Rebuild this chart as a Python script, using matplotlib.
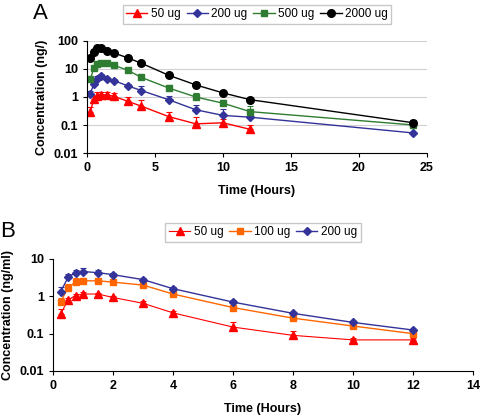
import matplotlib.pyplot as plt
import numpy as np

plt.rcParams['font.family'] = ['Liberation Sans', 'DejaVu Sans']

# Panel A
time_a = [0.25, 0.5, 0.75, 1, 1.5, 2, 3, 4, 6, 8, 10, 12, 24]
a_50 = [0.3, 0.85, 1.1, 1.2, 1.2, 1.05, 0.7, 0.47, 0.2, 0.11, 0.12, 0.07]
a_50_err = [0.15, 0.25, 0.35, 0.35, 0.3, 0.35, 0.3, 0.28, 0.1, 0.09, 0.05, 0.03]
a_200 = [1.3, 3.0, 4.5, 5.5, 4.5, 3.8, 2.5, 1.7, 0.8, 0.35, 0.22, 0.19, 0.052]
a_200_err = [0.3, 0.8, 1.0, 1.2, 0.6, 0.6, 0.5, 0.7, 0.3, 0.18, 0.14, 0.07, 0.005]
a_500 = [4.3, 11, 15, 16, 16, 13.5, 9, 5, 2.1, 1.0, 0.6, 0.3, 0.1]
a_500_err = [0.8, 2, 3, 3, 3, 2, 1.5, 1.0, 0.5, 0.35, 0.2, 0.18, 0.01]
a_2000 = [24, 42, 55, 55, 45, 37, 25, 16, 6, 2.7, 1.4, 0.8, 0.12]
a_2000_err = [4, 8, 8, 8, 6, 5, 4, 3, 1.2, 0.6, 0.3, 0.15, 0.03]

# Panel B
time_b = [0.25, 0.5, 0.75, 1, 1.5, 2, 3, 4, 6, 8, 10, 12]
b_50 = [0.33, 0.8, 1.05, 1.15, 1.15, 0.93, 0.65, 0.36, 0.15, 0.09, 0.068, 0.068]
b_50_err = [0.12, 0.1, 0.12, 0.12, 0.1, 0.1, 0.08, 0.05, 0.05, 0.03, 0.01, 0.01]
b_100 = [0.7, 1.7, 2.4, 2.6, 2.6, 2.4, 2.0, 1.15, 0.5, 0.26, 0.16, 0.1]
b_100_err = [0.2, 0.5, 0.6, 0.5, 0.4, 0.3, 0.2, 0.15, 0.06, 0.03, 0.02, 0.01]
b_200 = [1.3, 3.2, 4.3, 4.6, 4.3, 3.8, 2.8, 1.6, 0.7, 0.35, 0.2, 0.125]
b_200_err = [0.5, 0.8, 0.9, 1.2, 0.7, 0.4, 0.3, 0.15, 0.08, 0.04, 0.02, 0.01]

fig = plt.figure(figsize=(4.82, 4.2), dpi=100)


def series(ax, t, y, err, color, marker, label, ms, lw=1.0):
    n = len(y)
    ax.errorbar(t[:n], y, yerr=[np.zeros(n), err], fmt='none', ecolor=color,
                elinewidth=0.8, capsize=2, capthick=0.8)
    ax.plot(t[:n], y, color=color, marker=marker, ms=ms, lw=lw, mec=color,
            label=label)


def finish(ax, xmax, xticks, yticks, ylabel):
    ax.set_yscale('log')
    ax.set_xlim(0, xmax)
    ax.set_ylim(yticks[0], yticks[-1])
    ax.set_xticks(xticks)
    ax.set_yticks(yticks)
    ax.set_yticklabels([f'{v:g}' for v in yticks])
    ax.yaxis.set_minor_locator(plt.NullLocator())
    ax.spines['top'].set_visible(False)
    ax.spines['right'].set_visible(False)
    ax.tick_params(direction='out', length=3, labelsize=9)
    for lbl in ax.get_xticklabels() + ax.get_yticklabels():
        lbl.set_fontweight('bold')
    ax.set_xlabel('Time (Hours)', fontsize=9, fontweight='bold', labelpad=8)
    ax.set_ylabel(ylabel, fontsize=9, fontweight='bold')
    ax.legend(loc='lower center', bbox_to_anchor=(0.5, 1.1), ncol=4,
              frameon=True, fancybox=False, edgecolor='#bbbbbb', handlelength=1.8,
              handletextpad=0.3, columnspacing=0.5, borderpad=0.3,
              prop={'size': 8.5})


# ---- A ----
ax1 = fig.add_axes([0.1805, 0.6357, 0.7054, 0.2667])
series(ax1, time_a, a_50, a_50_err, '#FF0000', '^', '50 ug', 5.5)
series(ax1, time_a, a_200, a_200_err, '#333399', 'D', '200 ug', 4)
series(ax1, time_a, a_500, a_500_err, '#2E7D32', 's', '500 ug', 5)
series(ax1, time_a, a_2000, a_2000_err, '#000000', 'o', '2000 ug', 5.5)
ax1.yaxis.grid(True, color='#d0d0d0', lw=0.8)
ax1.set_axisbelow(True)
finish(ax1, 25, [0, 5, 10, 15, 20, 25], [0.01, 0.1, 1, 10, 100], 'Concentration (ng/)')
fig.text(0.068, 0.955, 'A', fontsize=16)

# ---- B ----
ax2 = fig.add_axes([0.11, 0.1167, 0.8714, 0.2667])
series(ax2, time_b, b_50, b_50_err, '#FF0000', '^', '50 ug', 5.5, lw=0.8)
series(ax2, time_b, b_100, b_100_err, '#FF6600', 's', '100 ug', 5)
series(ax2, time_b, b_200, b_200_err, '#333399', 'D', '200 ug', 4)
finish(ax2, 14, [0, 2, 4, 6, 8, 10, 12, 14], [0.01, 0.1, 1, 10], 'Concentration (ng/ml)')
fig.text(0.0, 0.435, 'B', fontsize=16)

fig.savefig('out.png', dpi=100)
